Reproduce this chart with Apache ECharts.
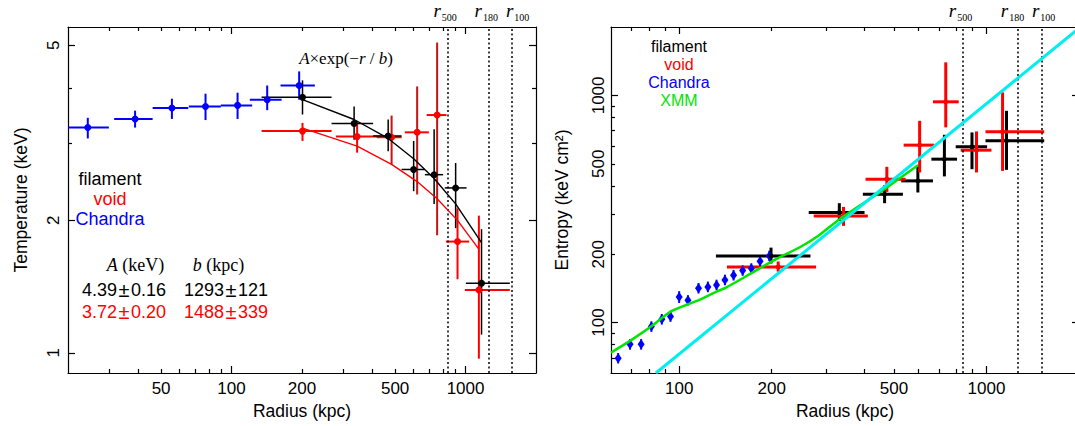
<!DOCTYPE html>
<html><head><meta charset="utf-8">
<script src="https://cdn.jsdelivr.net/npm/echarts@6/dist/echarts.min.js"></script>
<style>html,body{margin:0;padding:0;background:#fff}#c{width:1075px;height:426px}</style>
</head><body><div id="c"></div>
<script>
// ===================== DATA =====================
// ---- Left panel: temperature profiles ----
// rows: [radius kpc, T keV, rLow, rHigh, TLow, THigh]
const chandraT = [
  [24.3, 3.25, 20.0, 29.9, 3.07, 3.42],
  [38.7, 3.40, 31.5, 46.0, 3.25, 3.55],
  [55.6, 3.60, 46.0, 65.3, 3.40, 3.78],
  [77.4, 3.63, 65.7, 90.0, 3.38, 3.88],
  [106.1, 3.65, 90.0, 122.5, 3.40, 3.90],
  [142.0, 3.76, 119.7, 163.6, 3.56, 4.05],
  [194.5, 4.05, 161.9, 227.0, 3.76, 4.36]
];
const filamentT = [
  [201, 3.81, 134.4, 267.6, 3.48, 4.16],
  [334, 3.32, 267.6, 402.7, 3.05, 3.63],
  [467, 3.11, 402.7, 532.8, 2.87, 3.39],
  [600, 2.61, 532.8, 670, 2.33, 3.03],
  [734, 2.54, 670, 802, 2.18, 3.22],
  [907, 2.37, 815, 1010, 1.92, 2.70],
  [1170, 1.44, 1003, 1546, 1.10, 1.91]
];
const voidT = [
  [201, 3.19, 134.4, 267.6, 3.03, 3.33],
  [344, 3.10, 279, 472, 2.85, 3.36],
  [483, 3.09, 417, 533, 2.68, 3.46],
  [621, 3.17, 550, 697, 2.29, 4.03],
  [756, 3.47, 682, 829, 1.85, 5.07],
  [924, 1.79, 824, 1036, 1.47, 2.13],
  [1140, 1.39, 993, 1546, 0.97, 2.05]
];
// fitted A*exp(-r/b) curves
const filamentFitR = [201, 334, 467, 600, 734, 907, 1170];
const filamentFitT = [3.76, 3.39, 3.07, 2.76, 2.49, 2.18, 1.78];
const voidFitR = [201, 344, 483, 621, 756, 924, 1140];
const voidFitT = [3.24, 2.95, 2.68, 2.45, 2.24, 2.00, 1.72];
const tempRadii = [842, 1262, 1573];          // r500, r180, r100
const radiiNames = ['500', '180', '100'];

// ---- Right panel: entropy profiles ----
const chandraKR  = [63.3, 69.2, 75.2, 81.2, 87.8, 93.7, 100, 106.8, 115.6, 124.0, 132.3, 140.9, 150.3, 160.9, 171.7, 183.3, 196.5];
const chandraK   = [69.7, 80.2, 80.2, 96.0, 103.4, 106.3, 129.7, 125.4, 141.6, 143.6, 146.4, 154.0, 161.6, 169.5, 172.9, 186.2, 196.5];
const chandraKLo = [66.1, 76.0, 76.0, 91.0, 98.0, 100.8, 122.0, 119.0, 134.3, 136.1, 138.8, 146.0, 153.2, 160.7, 163.9, 176.5, 186.3];
const chandraKHi = [73.5, 84.6, 84.6, 101.3, 109.1, 112.1, 137.5, 132.0, 149.4, 151.5, 154.5, 162.5, 170.5, 178.8, 182.4, 196.4, 207.3];
// rows: [radius, K, rLow, rHigh, KLow, KHigh]
const filamentK = [
  [199, 196.5, 131.7, 267.4, 182, 213.8],
  [332, 305.2, 264, 401, 280.3, 335.4],
  [466, 367.4, 396, 534.6, 335.4, 402.6],
  [598, 420.5, 528, 669.6, 373.8, 493],
  [729.5, 524, 661.8, 802, 440, 671],
  [897, 593.6, 794, 1004.6, 473.4, 687],
  [1162, 631, 992.5, 1541, 470, 855.3]
];
const voidK = [
  [210, 175.8, 143, 279, 167.6, 185.7],
  [342.5, 294.8, 274, 411, 266.5, 323],
  [474, 427.9, 404, 545.6, 376, 484.8],
  [606, 604, 537.6, 674.8, 458, 773],
  [737, 937, 669.6, 812, 723, 1398],
  [928, 574, 824.6, 1038, 458, 694],
  [1128, 691, 992.5, 1541, 465.4, 1031]
];
const xmmR = [60, 70.4, 81.2, 93.7, 106.8, 116.2, 132.3, 142.0, 160.9, 182.3, 211.8, 246.2, 286.1, 332.4, 448.8, 598.4];
const xmmK = [73.8, 84.4, 96.3, 111.8, 120.4, 125.8, 136.9, 142.6, 156.7, 172.9, 193.5, 214, 243.2, 285.2, 373.8, 493.2];
const baselineR = [84, 2000];
const baselineK = [60, 1975];
const entRadii = [835, 1262, 1511];

// ---- axes ----
const tempXRange = [20, 2000], tempYRange = [0.9, 5.5];
const tempXLabels = [50, 100, 200, 500, 1000];
const tempXMajor = [100, 1000];
const tempXMinor = [30, 40, 50, 60, 70, 80, 90, 200, 300, 400, 500, 600, 700, 800, 900];
const tempYLabels = [1, 2, 5];
const tempYMajor = [1, 2, 5];
const tempYMinor = [3, 4];

const entXRange = [60, 2000], entYRange = [60, 2000];
const entXLabels = [100, 200, 500, 1000];
const entXMajor = [100, 1000];
const entXMinor = [70, 80, 90, 200, 300, 400, 500, 600, 700, 800, 900];
const entYLabels = [100, 200, 500, 1000];
const entYMajor = [100, 1000];
const entYMinor = [70, 80, 90, 200, 300, 400, 500, 600, 700, 800, 900];

// ===================== STYLE =====================
const SANS = '"Liberation Sans", Arial, Helvetica, sans-serif';
const SERIF = '"Liberation Serif", "Times New Roman", serif';
const RED = '#ff0000', DARKRED = '#c41414', BLUE = '#0000ff', GREEN = '#00e600', CYAN = '#00eeee';
// colour of each void vertical error bar (some are drawn darker in the reference)
const voidTVColors = [RED, RED, DARKRED, DARKRED, DARKRED, RED, RED];
// horizontal nudges (px) of the r-labels relative to their lines
const tempLabelShift = [-3, -3, 6];
const entLabelShift = [-2, -5, 2];

// ===================== CHART =====================
function makeAxes(dim, gridIndex, range, labels, majors, minors, name, nameGap, labelMargin) {
  const isX = dim === 'x';
  const pos = isX ? ['bottom', 'top'] : ['left', 'right'];
  const base = {type: 'log', logBase: 10, min: range[0], max: range[1], gridIndex: gridIndex,
    splitLine: {show: false}, minorTick: {show: false}, minorSplitLine: {show: false}, silent: true};
  const line = {show: true, onZero: false, lineStyle: {color: '#000', width: 1.2}};
  const tick = (vals, len) => ({show: true, inside: true, length: len, customValues: vals,
    lineStyle: {color: '#000', width: 1.2}});
  const noLine = {show: false, onZero: false};
  return [
    Object.assign({}, base, {position: pos[0], axisLine: line, axisTick: tick(majors, 7),
      axisLabel: {show: true, customValues: labels, margin: labelMargin, color: '#000', fontFamily: SANS,
        fontSize: 17, rotate: isX ? 0 : 90, formatter: v => String(Math.round(v * 100) / 100)},
      name: name, nameLocation: 'middle', nameGap: nameGap,
      nameTextStyle: {color: '#000', fontFamily: SANS, fontSize: 17.5}}),
    Object.assign({}, base, {position: pos[0], axisLine: noLine, axisTick: tick(minors, 4), axisLabel: {show: false}}),
    Object.assign({}, base, {position: pos[1], axisLine: line, axisTick: tick(majors, 7), axisLabel: {show: false}}),
    Object.assign({}, base, {position: pos[1], axisLine: noLine, axisTick: tick(minors, 4), axisLabel: {show: false}})
  ];
}

function errBars(color, width, vColors) {
  return function (params, api) {
    const x = api.value(0), y = api.value(1);
    const h0 = api.coord([api.value(2), y]), h1 = api.coord([api.value(3), y]);
    const v0 = api.coord([x, api.value(4)]), v1 = api.coord([x, api.value(5)]);
    const vc = vColors ? vColors[params.dataIndex] : color;
    return {type: 'group', children: [
      {type: 'line', shape: {x1: h0[0], y1: h0[1], x2: h1[0], y2: h1[1]}, style: {stroke: color, lineWidth: width}},
      {type: 'line', shape: {x1: v0[0], y1: v0[1], x2: v1[0], y2: v1[1]}, style: {stroke: vc, lineWidth: width}}
    ]};
  };
}
function errSeries(data, xi, color, width, z, vColors) {
  return {type: 'custom', xAxisIndex: xi, yAxisIndex: xi, data: data, encode: {x: 0, y: 1},
    renderItem: errBars(color, width, vColors), clip: true, silent: true, z: z};
}
function dots(data, xi, color, size, symbol, z) {
  return {type: 'scatter', xAxisIndex: xi, yAxisIndex: xi, data: data.map(d => [d[0], d[1]]),
    symbol: symbol || 'circle', symbolSize: size, itemStyle: {color: color, opacity: 1}, silent: true, z: z};
}
function zip(a, b) { return a.map((v, i) => [v, b[i]]); }
function dotted(vals) {
  return {silent: true, symbol: ['none', 'none'], label: {show: false}, animation: false,
    lineStyle: {color: '#000', width: 1.5, type: [2, 2.5]}, emphasis: {disabled: true},
    data: vals.map(v => ({xAxis: v}))};
}

const chandraKRows = chandraKR.map((r, i) => [r, chandraK[i], r, r, chandraKLo[i], chandraKHi[i]]);

const option = {
  animation: false,
  textStyle: {fontFamily: SANS},
  grid: [
    {left: 68, top: 27, width: 468, height: 346, containLabel: false, outerBoundsMode: 'none'},
    {left: 611, top: 27, width: 468, height: 346, containLabel: false, outerBoundsMode: 'none'}
  ],
  xAxis: [].concat(
    makeAxes('x', 0, tempXRange, tempXLabels, tempXMajor, tempXMinor, 'Radius (kpc)', 25, 7),
    makeAxes('x', 1, entXRange, entXLabels, entXMajor, entXMinor, 'Radius (kpc)', 25, 7)
  ),
  yAxis: [].concat(
    makeAxes('y', 0, tempYRange, tempYLabels, tempYMajor, tempYMinor, 'Temperature (keV)', 38, 6),
    makeAxes('y', 1, entYRange, entYLabels, entYMajor, entYMinor, 'Entropy (keV cm²)', 40, 4)
  ),
  series: [
    // left panel (axis index 0)
    errSeries(chandraT, 0, BLUE, 2, 2),
    errSeries(voidT, 0, RED, 2, 3, voidTVColors),
    errSeries(filamentT, 0, '#000000', 1.5, 4),
    dots(chandraT, 0, BLUE, 7, 'circle', 5),
    dots(voidT, 0, RED, 7, 'circle', 5),
    dots(filamentT, 0, '#000000', 7, 'circle', 6),
    {type: 'line', xAxisIndex: 0, yAxisIndex: 0, data: zip(voidFitR, voidFitT), showSymbol: false,
      lineStyle: {color: RED, width: 1.4}, silent: true, z: 7},
    {type: 'line', xAxisIndex: 0, yAxisIndex: 0, data: zip(filamentFitR, filamentFitT), showSymbol: false,
      lineStyle: {color: '#000000', width: 1.4}, silent: true, z: 7, markLine: dotted(tempRadii)},
    // right panel (axis index 4)
    errSeries(chandraKRows, 4, BLUE, 2, 2),
    errSeries(filamentK, 4, '#000000', 3, 3),
    errSeries(voidK, 4, RED, 3, 4),
    dots(chandraKRows, 4, BLUE, [7, 10], 'diamond', 5),
    dots(filamentK, 4, '#000000', 5, 'circle', 5),
    dots(voidK, 4, RED, 5, 'circle', 5),
    {type: 'line', xAxisIndex: 4, yAxisIndex: 4, data: zip(xmmR, xmmK), showSymbol: false, smooth: 0.2,
      lineStyle: {color: GREEN, width: 2.5}, silent: true, z: 7},
    {type: 'line', xAxisIndex: 4, yAxisIndex: 4, data: zip(baselineR, baselineK), showSymbol: false,
      lineStyle: {color: CYAN, width: 3}, silent: true, z: 8, markLine: dotted(entRadii)}
  ]
};

const chart = echarts.init(document.getElementById('c'), null, {renderer: 'svg', width: 1075, height: 426});
chart.setOption(option);

// ---- text annotations ----
function pm(x, y, a, b, color) {
  return {type: 'text', x: x, y: y, silent: true, z: 20,
    style: {text: '{t|' + a + '}{p|±}{t|' + b + '}', align: 'left', verticalAlign: 'middle',
      rich: {t: {fill: color, fontSize: 18, fontFamily: SANS},
             p: {fill: color, fontSize: 20, fontFamily: SANS, padding: [0, 1.5, 0, 1.5]}}}};
}
function legend(x, y, items, lh, size) {
  const rich = {};
  items.forEach((it, i) => { rich['c' + i] = {fill: it[1], fontSize: size, fontFamily: SANS, lineHeight: lh, align: 'center'}; });
  return {type: 'text', x: x, y: y, silent: true, z: 20,
    style: {text: items.map((it, i) => '{c' + i + '|' + it[0] + '}').join('\n'), align: 'center', verticalAlign: 'middle', rich: rich}};
}
function richTxt(x, y, text, align, size) {
  const s = size || 18;
  return {type: 'text', x: x, y: y, silent: true, z: 20,
    style: {text: text, align: align || 'center', verticalAlign: 'middle',
      rich: {
        i: {fill: '#000', fontSize: s, fontFamily: SERIF, fontStyle: 'italic'},
        n: {fill: '#000', fontSize: s, fontFamily: SERIF}
      }}};
}
function rLabel(xi, val, sub, shift) {
  const px = chart.convertToPixel({xAxisIndex: xi}, val) + shift;
  return {type: 'text', x: px, y: 10, silent: true, z: 20,
    style: {text: '{r|r}{s|' + sub + '}', align: 'center', verticalAlign: 'middle',
      rich: {
        r: {fill: '#000', fontSize: 19, lineHeight: 19, fontFamily: SERIF, fontStyle: 'italic'},
        s: {fill: '#000', fontSize: 10, lineHeight: 11, fontFamily: SERIF, padding: [14, 0, 0, 1]}
      }}};
}

const graphics = [
  legend(110, 198.5, [['filament', '#000'], ['void', RED], ['Chandra', BLUE]], 20, 18),
  richTxt(346, 58, '{i|A}{n|×exp(−}{i|r}{n| / }{i|b}{n|)}', 'center', 17),
  richTxt(106.7, 265, '{i|A}{n| (keV)}', 'left', 18),
  richTxt(192.8, 265, '{i|b}{n| (kpc)}', 'left', 18),
  pm(82, 289.5, '4.39', '0.16', '#000'),
  pm(184, 289.5, '1293', '121', '#000'),
  pm(82, 311.5, '3.72', '0.20', RED),
  pm(184, 311.5, '1488', '339', RED),
  legend(679, 73, [['filament', '#000'], ['void', RED], ['Chandra', BLUE], ['XMM', GREEN]], 18, 16)
];
tempRadii.forEach((v, i) => graphics.push(rLabel(0, v, radiiNames[i], tempLabelShift[i])));
entRadii.forEach((v, i) => graphics.push(rLabel(4, v, radiiNames[i], entLabelShift[i])));
chart.setOption({graphic: graphics});
</script>
</body></html>
